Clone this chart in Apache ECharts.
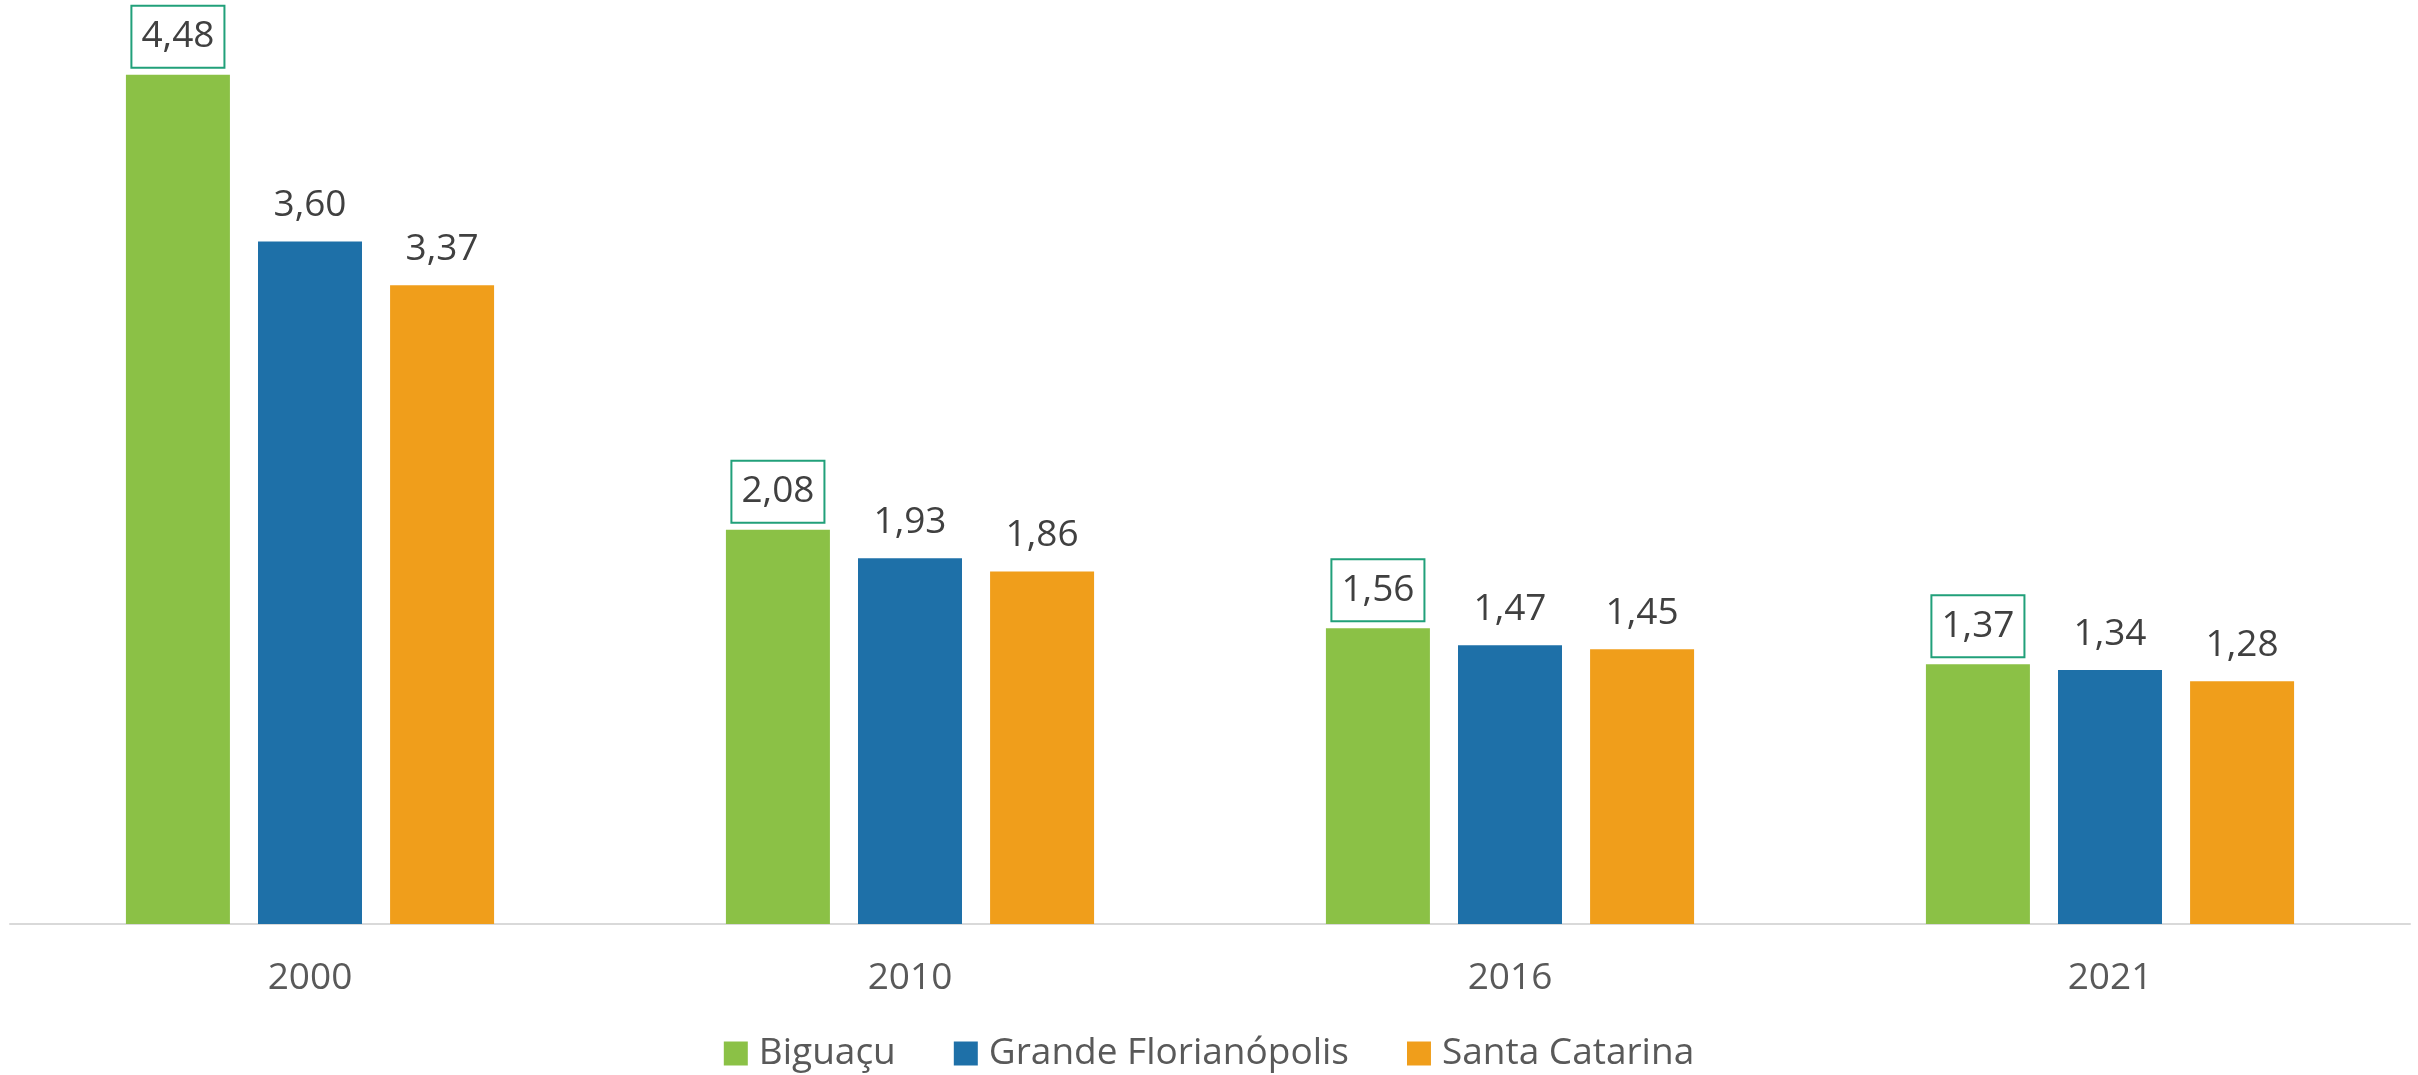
<!DOCTYPE html>
<html>
<head>
<meta charset="utf-8">
<script src="https://cdn.jsdelivr.net/npm/echarts@6/dist/echarts.min.js"></script>
<style>
  html, body { margin: 0; padding: 0; background: #fff; }
  #chart { width: 2418px; height: 1075px; }
</style>
</head>
<body>
<div id="chart"></div>
<script>
const years = ["2000", "2010", "2016", "2021"];
const biguacu = [4.48, 2.08, 1.56, 1.37];
const grandeFloripa = [3.60, 1.93, 1.47, 1.34];
const santaCatarina = [3.37, 1.86, 1.45, 1.28];

const FONT = "Open Sans";
const fmt = (p) => p.value.toFixed(2).replace(".", ",");

const plainLabel = {
  show: true,
  position: "top",
  distance: 18,
  formatter: fmt,
  color: "#404040",
  fontFamily: FONT,
  fontSize: 37,
  lineHeight: 36,
};

const myChart = echarts.init(document.getElementById("chart"));
myChart.setOption({
  animation: false,
  textStyle: { fontFamily: FONT },
  grid: { left: 10, right: 8, top: 52, bottom: 151 },
  legend: {
    top: 1030,
    left: "center",
    icon: "rect",
    itemWidth: 24,
    itemHeight: 24,
    itemGap: 58,
    textStyle: {
      color: "#595959",
      fontSize: 37,
      lineHeight: 36,
      fontFamily: FONT,
      padding: [0, 0, 0, 6],
    },
    data: ["Biguaçu", "Grande Florianópolis", "Santa Catarina"],
  },
  xAxis: {
    type: "category",
    data: years,
    axisLine: { show: true, lineStyle: { color: "#d9d9d9", width: 2 } },
    axisTick: { show: false },
    axisLabel: { color: "#595959", fontSize: 37, fontFamily: FONT, margin: 36 },
  },
  yAxis: {
    type: "value",
    min: 0,
    max: 4.6,
    show: false,
    splitLine: { show: false },
  },
  series: [
    {
      name: "Biguaçu",
      type: "bar",
      barWidth: 104,
      barGap: "27%",
      itemStyle: { color: "#8bc146" },
      data: biguacu,
      label: {
        show: true,
        position: "top",
        distance: 8,
        formatter: fmt,
        color: "#404040",
        fontFamily: FONT,
        fontSize: 37,
        lineHeight: 36,
        borderColor: "#21a07a",
        borderWidth: 2,
        padding: [12, 9, 12, 9],
        backgroundColor: "#fff",
      },
    },
    {
      name: "Grande Florianópolis",
      type: "bar",
      barWidth: 104,
      barGap: "27%",
      itemStyle: { color: "#1e70a8" },
      data: grandeFloripa,
      label: plainLabel,
    },
    {
      name: "Santa Catarina",
      type: "bar",
      barWidth: 104,
      barGap: "27%",
      itemStyle: { color: "#f09e1b" },
      data: santaCatarina,
      label: plainLabel,
    },
  ],
});
window.onresize = function () {
  myChart.resize();
};
</script>
</body>
</html>
